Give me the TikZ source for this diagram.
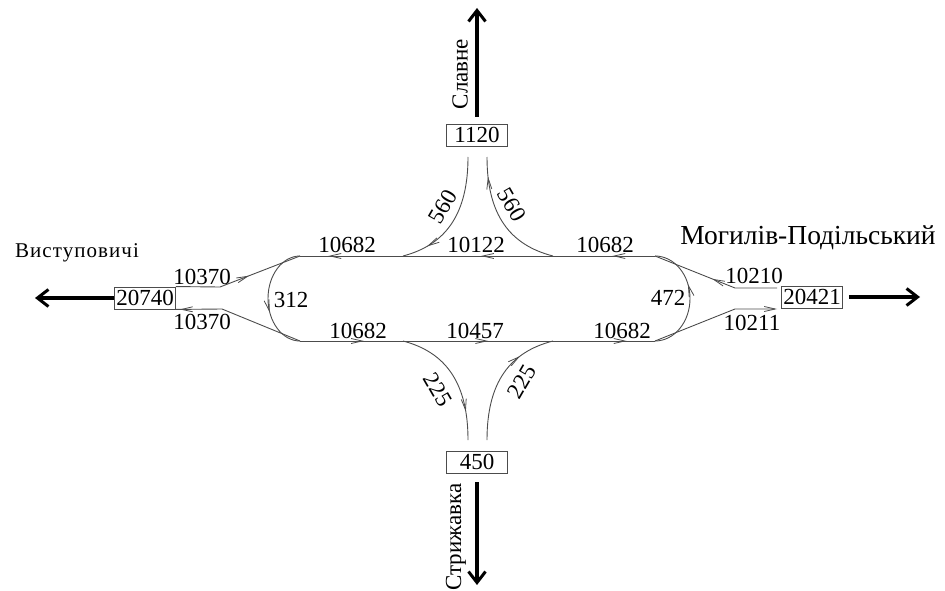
\documentclass[tikz,border=0pt]{standalone}
\usepackage{fontspec}
\setmainfont{Liberation Serif}
\usetikzlibrary{arrows.meta,decorations.markings}
\begin{document}
\begin{tikzpicture}[x=1pt,y=-1pt,
  track/.style={draw=black!70, line width=0.9pt},
  lbl/.style={font=\fontsize{23}{25}\selectfont, inner sep=0pt},
  box/.style={draw=black!70, line width=0.9pt, font=\fontsize{23}{25}\selectfont, inner sep=1pt, minimum width=61pt, minimum height=22pt},
  dir/.style={line width=3.5pt, -{Straight Barb[length=11pt,width=17pt,line width=3pt]}},
  mk/.style={postaction={decorate,decoration={markings,mark=at position #1 with {\arrow{Straight Barb[length=11pt,width=5pt,line width=0.8pt]}}}}},
  tip/.style={-{Straight Barb[length=11pt,width=5pt,line width=0.8pt]}},
]
\useasboundingbox (0,0) rectangle (945,591);

% boxes
\node[box] (b20740) at (145,298) {20740};
\node[box] (b20421) at (812,297) {20421};
\node[box] (b1120) at (477,135) {1120};
\node[box] (b450) at (477,462) {450};

% junction coordinates
\coordinate (TL) at (300,256);
\coordinate (TR) at (655,256);
\coordinate (BL) at (300,341);
\coordinate (BR) at (655,341);
\coordinate (lu) at (220,287);
\coordinate (ll) at (222,309);
\coordinate (ru) at (735,288);
\coordinate (rl) at (735,309);
\coordinate (re1) at (777,288);
\coordinate (re2) at (777,309);
\coordinate (t1) at (468,157);
\coordinate (t2) at (487,157);
\coordinate (t1e) at (403,256);
\coordinate (t2e) at (553,256);
\coordinate (s1) at (468,440);
\coordinate (s2) at (487,440);
\coordinate (s1e) at (403,341);
\coordinate (s2e) at (553,341);
\coordinate (upE) at (477,8);
\coordinate (dnE) at (477,585);
\coordinate (lfE) at (35,298);
\coordinate (rtE) at (920,297);

% main loop
\draw[track, mk=0.12, mk=0.49, mk=0.92] (TR) -- (TL);
\draw[track, mk=0.18, mk=0.53, mk=0.92] (BL) -- (BR);
\draw[track, mk=0.62] (TL) arc[start angle=270, end angle=90, x radius=32, y radius=42.5];
\draw[track, mk=0.62] (BR) arc[start angle=90, end angle=-90, x radius=35, y radius=42.5];

% west approaches
\draw[track, mk=0.58] (b20740.north east) -- (lu) -- (TL);
\draw[track, mk=0.97] (BL) -- (ll) -- (b20740.south east);

% east approaches
\draw[track, mk=0.52] (re1) -- (ru) -- (TR);
\draw[track, tip] (BR) -- (rl) -- (re2);

% north approaches
\draw[track, mk=0.8] (t1) .. controls (468,215) and (445,245) .. (t1e);
\draw[track, mk=0.85] (t2e) .. controls (510,245) and (487,215) .. (t2);

% south approaches
\draw[track, mk=0.78] (s1e) .. controls (445,352) and (468,382) .. (s1);
\draw[track, mk=0.72] (s2) .. controls (487,382) and (510,352) .. (s2e);

% direction arrows
\draw[dir] ([yshift=7pt]b1120.north) -- (upE);
\draw[dir] ([yshift=-9pt]b450.south) -- (dnE);
\draw[dir] (b20740.west) -- (lfE);
\draw[dir] ([xshift=6pt]b20421.east) -- (rtE);

% labels
\node[lbl] (l1) at (347,245) {10682};
\node[lbl] (l2) at (476,245) {10122};
\node[lbl] (l3) at (605,245) {10682};
\node[lbl] (l4) at (358,331) {10682};
\node[lbl] (l5) at (475,331) {10457};
\node[lbl] (l6) at (622,331) {10682};
\node[lbl] (l7) at (202,277) {10370};
\node[lbl] (l8) at (202,322) {10370};
\node[lbl] (l9) at (291,300) {312};
\node[lbl] (l10) at (754,276) {10210};
\node[lbl] (l11) at (752,323) {10211};
\node[lbl] (l12) at (668,298) {472};
\node[lbl, rotate=60] (l13) at (443,207) {560};
\node[lbl, rotate=-60] (l14) at (512,205) {560};
\node[lbl, rotate=-60] (l15) at (438,390) {225};
\node[lbl, rotate=60] (l16) at (522,382) {225};
\node[lbl, rotate=90] (n1) at (460,74) {Славне};
\node[lbl, rotate=90] (n2) at (456,537) {Стрижавка};
\node[lbl, font=\fontsize{21}{23}\selectfont\addfontfeature{LetterSpace=5}] (n3) at (77,253) {Виступовичі};
\node[lbl, font=\fontsize{27.5}{29}\selectfont] (n4) at (808,238) {Могилів-Подільський};
\end{tikzpicture}
\end{document}
